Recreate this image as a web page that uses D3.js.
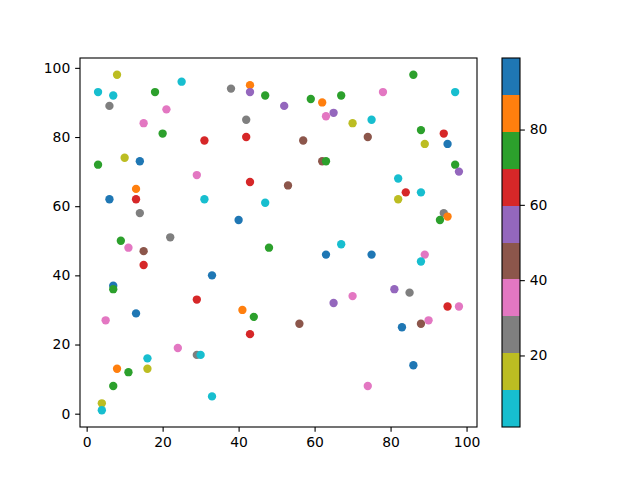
<!DOCTYPE html>
<html>
<head>
<meta charset="utf-8">
<script src="https://cdn.jsdelivr.net/npm/d3@7"></script>
<style>
  body { margin: 0; background: #fff; }
  svg text { font-family: "DejaVu Sans", sans-serif; font-size: 13.9px; fill: #000; }
</style>
</head>
<body>
<div id="chart"></div>
<script>
// point data
const xs = [8, 3, 7, 6, 18, 25, 21, 15, 20, 38, 43, 43, 47, 52, 42, 42, 31, 10, 14, 3,
            29, 43, 13, 6, 13, 31, 47, 14, 40, 9, 22,
            86, 78, 97, 59, 62, 67, 65, 63, 70, 75, 57, 74, 88, 94, 89, 95, 62, 63, 97,
            98, 53, 82, 84, 88, 82, 94, 95, 93, 67,
            48, 11, 15, 15, 33, 7, 7, 29, 41, 44, 13, 5, 43, 24, 29, 30, 16, 8, 16, 11,
            7, 33, 4, 4,
            63, 75, 89, 88, 81, 85, 70, 65, 95, 98, 90, 88, 56, 83, 86, 74];
const ys = [98, 93, 92, 89, 93, 96, 88, 84, 81, 94, 95, 93, 92, 89, 85, 80, 79, 74, 73, 72,
            69, 67, 65, 62, 62, 62, 61, 58, 56, 50, 51,
            98, 93, 93, 91, 90, 92, 87, 86, 84, 85, 79, 80, 82, 81, 78, 78, 73, 73, 72,
            70, 66, 68, 64, 64, 62, 58, 57, 56, 49,
            48, 48, 47, 43, 40, 37, 36, 33, 30, 28, 29, 27, 23, 19, 17, 17, 16, 13, 13, 12,
            8, 5, 3, 1,
            46, 46, 46, 44, 36, 35, 34, 32, 31, 31, 27, 26, 26, 25, 14, 8];
const cs = [15, 5, 5, 25, 75, 5, 35, 35, 75, 25, 85, 55, 75, 55, 25, 65, 65, 15, 95, 75,
            35, 65, 85, 95, 65, 5, 5, 25, 95, 75, 25,
            75, 35, 5, 75, 85, 75, 55, 35, 15, 5, 45, 45, 75, 65, 15, 95, 45, 75, 75,
            55, 45, 5, 65, 5, 15, 25, 85, 75, 5,
            75, 35, 45, 65, 95, 95, 75, 65, 85, 75, 95, 35, 65, 35, 25, 5, 5, 85, 15, 75,
            75, 5, 15, 5,
            95, 95, 35, 5, 55, 25, 35, 55, 65, 35, 35, 45, 45, 95, 95, 35];

const cMin = 1, cMax = 99;
const xTicks = [0, 20, 40, 60, 80, 100];
const yTicks = [0, 20, 40, 60, 80, 100];
const cTicks = [20, 40, 60, 80];

// tab10, reversed
const tab10r = ["#17becf", "#bcbd22", "#7f7f7f", "#e377c2", "#8c564b",
                "#9467bd", "#d62728", "#2ca02c", "#ff7f0e", "#1f77b4"];

const width = 640, height = 480;
const axL = 80, axR = 477, axT = 58, axB = 427;
const cbL = 502, cbR = 520;

const svg = d3.select("#chart").append("svg")
  .attr("width", width)
  .attr("height", height);

svg.append("rect").attr("width", width).attr("height", height).attr("fill", "#fff");

// matplotlib style 5% margins
function padded(arr) {
  const [lo, hi] = d3.extent(arr), m = (hi - lo) * 0.05;
  return [lo - m, hi + m];
}

const x = d3.scaleLinear().domain(padded(xs)).range([axL, axR]);
const y = d3.scaleLinear().domain(padded(ys)).range([axB, axT]);
const color = d3.scaleQuantize().domain([cMin, cMax]).range(tab10r);

svg.append("g")
  .selectAll("circle")
  .data(d3.range(xs.length))
  .enter().append("circle")
  .attr("cx", i => x(xs[i]))
  .attr("cy", i => y(ys[i]))
  .attr("r", 4.17)
  .attr("fill", i => color(cs[i]));

const tickLen = 4.86;

const xAxis = svg.append("g")
  .attr("transform", `translate(0,${axB})`)
  .call(d3.axisBottom(x).tickValues(xTicks).tickSizeOuter(0).tickSize(tickLen).tickPadding(4.9));
const yAxis = svg.append("g")
  .attr("transform", `translate(${axL},0)`)
  .call(d3.axisLeft(y).tickValues(yTicks).tickSizeOuter(0).tickSize(tickLen).tickPadding(4.9));

[xAxis, yAxis].forEach(a => {
  a.select(".domain").remove();
  a.selectAll(".tick line").attr("stroke", "#000").attr("stroke-width", 1.1);
  a.selectAll("text").attr("font-family", null).attr("font-size", null);
});

svg.append("rect")
  .attr("x", axL).attr("y", axT)
  .attr("width", axR - axL).attr("height", axB - axT)
  .attr("fill", "none").attr("stroke", "#000").attr("stroke-width", 1.1);

// colorbar
const cb = d3.scaleLinear().domain([cMin, cMax]).range([axB, axT]);
const binW = (cMax - cMin) / tab10r.length;

svg.append("g")
  .selectAll("rect")
  .data(tab10r)
  .enter().append("rect")
  .attr("x", cbL)
  .attr("width", cbR - cbL)
  .attr("y", (d, i) => cb(cMin + (i + 1) * binW))
  .attr("height", (d, i) => cb(cMin + i * binW) - cb(cMin + (i + 1) * binW))
  .attr("fill", d => d)
  .attr("shape-rendering", "crispEdges");

const cAxis = svg.append("g")
  .attr("transform", `translate(${cbR},0)`)
  .call(d3.axisRight(cb).tickValues(cTicks).tickSizeOuter(0).tickSize(tickLen).tickPadding(4.9));
cAxis.select(".domain").remove();
cAxis.selectAll(".tick line").attr("stroke", "#000").attr("stroke-width", 1.1);
cAxis.selectAll("text").attr("font-family", null).attr("font-size", null);

svg.append("rect")
  .attr("x", cbL).attr("y", axT)
  .attr("width", cbR - cbL).attr("height", axB - axT)
  .attr("fill", "none").attr("stroke", "#000").attr("stroke-width", 1.1);
</script>
</body>
</html>
